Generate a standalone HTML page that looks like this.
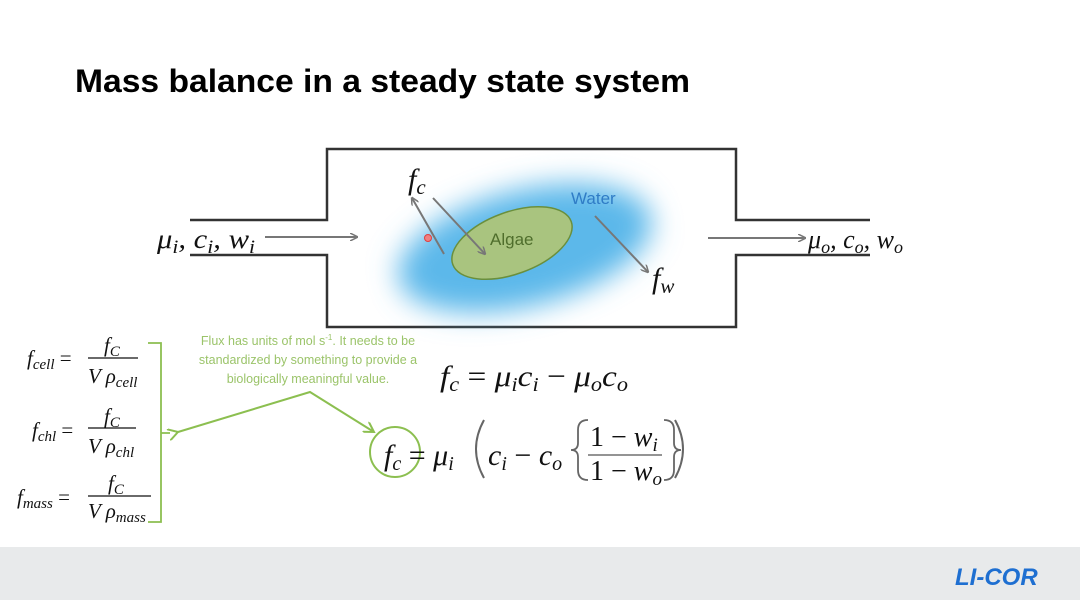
<!DOCTYPE html>
<html><head><meta charset="utf-8"><style>
html,body{margin:0;padding:0;background:#fff;}
svg{display:block}
.m{font-family:"Liberation Serif","DejaVu Serif",serif;font-style:italic;fill:#111}
.s{font-family:"Liberation Sans",sans-serif}
</style></head><body>
<svg width="1080" height="600" viewBox="0 0 1080 600" xmlns="http://www.w3.org/2000/svg">
<defs>
<filter id="bl" x="-50%" y="-50%" width="200%" height="200%"><feGaussianBlur stdDeviation="14"/></filter>
<marker id="ag" markerWidth="8" markerHeight="8" refX="7" refY="4" orient="auto" markerUnits="userSpaceOnUse"><path d="M0,0 L8,4 L0,8" fill="none" stroke="#777" stroke-width="1.5"/></marker>
<marker id="gg" markerWidth="12" markerHeight="12" refX="10" refY="6" orient="auto" markerUnits="userSpaceOnUse"><path d="M0,0 L10,6 L0,12" fill="none" stroke="#8cbf50" stroke-width="2"/></marker>
</defs>
<rect x="0" y="547" width="1080" height="53" fill="#e8eaeb"/>
<text x="75" y="92" class="s" font-size="32" font-weight="bold" fill="#000" textLength="615" lengthAdjust="spacingAndGlyphs">Mass balance in a steady state system</text>
<path d="M190,220 H327 V149 H736 V220 H870 M190,255 H327 V327 H736 V255 H870" fill="none" stroke="#333" stroke-width="2.5"/>
<ellipse cx="525" cy="248" rx="130" ry="58" transform="rotate(-14 525 248)" fill="#5bb8ea" filter="url(#bl)"/>
<ellipse cx="512" cy="243" rx="63" ry="31" transform="rotate(-20 512 243)" fill="#a9c47f" stroke="#6a8f3c" stroke-width="1.5"/>
<circle cx="428" cy="238" r="3.5" fill="#f08080" stroke="#e04040"/>
<text x="490" y="245" class="s" font-size="17" fill="#4f6e2c">Algae</text>
<text x="571" y="204" class="s" font-size="17" fill="#2f7cc6">Water</text>
<line x1="265" y1="237" x2="357" y2="237" stroke="#777" stroke-width="2" marker-end="url(#ag)"/>
<line x1="708" y1="238" x2="805" y2="238" stroke="#777" stroke-width="2" marker-end="url(#ag)"/>
<line x1="444" y1="254" x2="412" y2="198" stroke="#777" stroke-width="2" marker-end="url(#ag)"/>
<line x1="433" y1="198" x2="485" y2="254" stroke="#777" stroke-width="2" marker-end="url(#ag)"/>
<line x1="595" y1="216" x2="648" y2="272" stroke="#777" stroke-width="2" marker-end="url(#ag)"/>
<text x="408" y="189" class="m" font-size="30">f<tspan font-size="21" dy="5">c</tspan></text>
<text x="652" y="288" class="m" font-size="30">f<tspan font-size="21" dy="5">w</tspan></text>
<text x="157" y="248" class="m" font-size="27" textLength="98" lengthAdjust="spacingAndGlyphs">μ<tspan font-size="19" dy="5">i</tspan><tspan dy="-5">, c</tspan><tspan font-size="19" dy="5">i</tspan><tspan dy="-5">, w</tspan><tspan font-size="19" dy="5">i</tspan></text>
<text x="808" y="248" class="m" font-size="26">μ<tspan font-size="18" dy="5">o</tspan><tspan dy="-5">, c</tspan><tspan font-size="18" dy="5">o</tspan><tspan dy="-5">, w</tspan><tspan font-size="18" dy="5">o</tspan></text>
<g class="m" font-size="21">
<text x="27" y="365">f<tspan font-size="15" dy="4">cell</tspan><tspan dy="-4" font-style="normal"> =</tspan></text>
<text x="104" y="352">f<tspan font-size="15" dy="4">C</tspan></text>
<line x1="88" y1="358" x2="138" y2="358" stroke="#111" stroke-width="1.3"/>
<text x="88" y="383">V ρ<tspan font-size="15" dy="4">cell</tspan></text>
<text x="32" y="437">f<tspan font-size="15" dy="4">chl</tspan><tspan dy="-4" font-style="normal"> =</tspan></text>
<text x="104" y="423">f<tspan font-size="15" dy="4">C</tspan></text>
<line x1="88" y1="428" x2="136" y2="428" stroke="#111" stroke-width="1.3"/>
<text x="88" y="453">V ρ<tspan font-size="15" dy="4">chl</tspan></text>
<text x="17" y="504">f<tspan font-size="15" dy="4">mass</tspan><tspan dy="-4" font-style="normal"> =</tspan></text>
<text x="108" y="490">f<tspan font-size="15" dy="4">C</tspan></text>
<line x1="88" y1="496" x2="151" y2="496" stroke="#111" stroke-width="1.3"/>
<text x="88" y="518">V ρ<tspan font-size="15" dy="4">mass</tspan></text>
</g>
<path d="M148,343 H161 V522 H148 M161,433 H170" fill="none" stroke="#8cbf50" stroke-width="1.8"/>
<g class="s" font-size="12.5" fill="#9bc46a" text-anchor="middle">
<text x="308" y="345">Flux has units of mol s<tspan font-size="8" dy="-5">-1</tspan><tspan dy="5">. It needs to be</tspan></text>
<text x="308" y="364">standardized by something to provide a</text>
<text x="308" y="383">biologically meaningful value.</text>
</g>
<polyline points="178,432 310,392 374,432" fill="none" stroke="#8cbf50" stroke-width="2" marker-start="url(#gg)" marker-end="url(#gg)"/>
<circle cx="395" cy="452" r="25" fill="none" stroke="#8cbf50" stroke-width="2"/>
<text x="440" y="386" class="m" font-size="30" textLength="188" lengthAdjust="spacingAndGlyphs">f<tspan font-size="20" dy="5">c</tspan><tspan dy="-5" font-style="normal"> = </tspan>μ<tspan font-size="20" dy="5">i</tspan><tspan dy="-5">c</tspan><tspan font-size="20" dy="5">i</tspan><tspan dy="-5" font-style="normal"> − </tspan>μ<tspan font-size="20" dy="5">o</tspan><tspan dy="-5">c</tspan><tspan font-size="20" dy="5">o</tspan></text>
<text x="384" y="465" class="m" font-size="30">f<tspan font-size="20" dy="5">c</tspan><tspan dy="-5" font-style="normal"> = </tspan>μ<tspan font-size="20" dy="5">i</tspan></text>
<path d="M484,420 Q468,449 484,478" fill="none" stroke="#666" stroke-width="2"/>
<text x="488" y="465" class="m" font-size="30">c<tspan font-size="20" dy="5">i</tspan><tspan dy="-5" font-style="normal"> − </tspan>c<tspan font-size="20" dy="5">o</tspan></text>
<path d="M588,420 Q578,420 578,430 V443 Q578,450 571,450 Q578,450 578,457 V470 Q578,480 588,480" fill="none" stroke="#666" stroke-width="1.8"/>
<text x="590" y="446" class="m" font-size="28"><tspan font-style="normal">1 − </tspan>w<tspan font-size="19" dy="5">i</tspan></text>
<line x1="588" y1="455" x2="662" y2="455" stroke="#555" stroke-width="1.3"/>
<text x="590" y="480" class="m" font-size="28"><tspan font-style="normal">1 − </tspan>w<tspan font-size="19" dy="5">o</tspan></text>
<path d="M664,420 Q674,420 674,430 V443 Q674,450 681,450 Q674,450 674,457 V470 Q674,480 664,480" fill="none" stroke="#666" stroke-width="1.8"/>
<path d="M675,420 Q691,449 675,478" fill="none" stroke="#666" stroke-width="2"/>
<text x="955" y="585" class="s" font-size="24" font-weight="bold" font-style="italic" fill="#1e6fd1">LI-COR</text>
</svg>
</body></html>
